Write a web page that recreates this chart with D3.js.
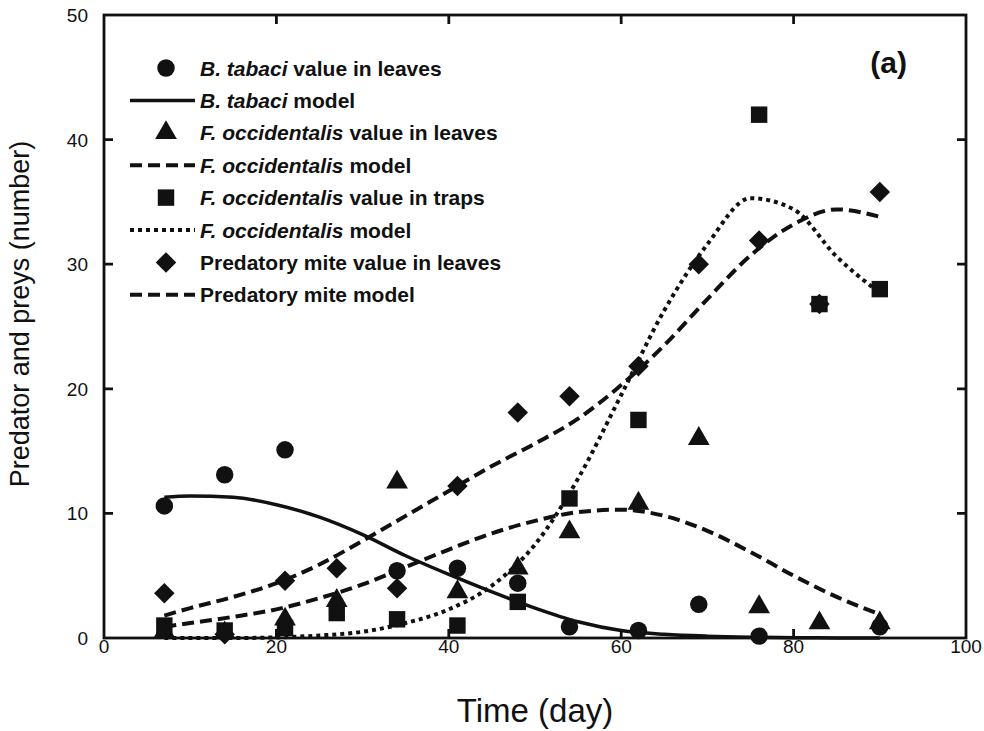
<!DOCTYPE html>
<html>
<head>
<meta charset="utf-8">
<script src="https://cdn.jsdelivr.net/npm/d3@7"></script>
<style>
    body { margin: 0; background: #fff; }
    text { font-family: Arial, "Liberation Sans", sans-serif; fill: #111; }
    .frame { fill: none; stroke: #111; stroke-width: 2.8; }
    .tick-label { font-size: 19px; }
    .legend text { font-size: 21px; font-weight: bold; }
</style>
</head>
<body>
<svg id="chart" width="984" height="731"></svg>
<script>
(function() {
    'use strict';

    /******************************************************************
        data
     ******************************************************************/
    var days = [7, 14, 21, 27, 34, 41, 48, 54, 62, 69, 76, 83, 90];

    var tabaciLeaves   = [10.6, 13.1, 15.1, null, 5.4, 5.6, 4.4, 0.9, 0.6, 2.7, 0.15, null, 0.9];
    var occLeaves      = [0.5, 0.4, 1.5, 3.0, 12.5, 3.7, 5.6, 8.5, 10.8, 16.0, 2.5, 1.2, 1.2];
    var occTraps       = [1.0, 0.6, 0.8, 2.0, 1.5, 1.0, 2.9, 11.2, 17.5, null, 42.0, 26.8, 28.0];
    var mitesLeaves    = [3.6, 0.3, 4.6, 5.6, 4.0, 12.2, 18.1, 19.4, 21.8, 30.0, 31.9, 26.8, 35.8];

    var modelDays      = [7, 10, 15, 20, 25, 30, 35, 40, 45, 50, 55, 60, 65, 70, 75, 80, 85, 90];
    var tabaciModel    = [11.3, 11.4, 11.3, 10.7, 9.7, 8.3, 6.6, 5.1, 3.7, 2.4, 1.3, 0.6, 0.3, 0.15, 0.07, 0.03, 0.01, 0];
    var occLeavesModel = [0.9, 1.2, 1.7, 2.3, 3.2, 4.3, 5.7, 7.1, 8.4, 9.4, 10.1, 10.3, 9.8, 8.6, 6.9, 5.0, 3.3, 1.9];
    var occTrapsModel  = [0, 0, 0, 0.05, 0.2, 0.5, 1.2, 2.3, 4.2, 7.5, 12.8, 19.5, 26.3, 31.6, 35.3, 34.4, 30.6, 27.7];
    var mitesModel     = [1.8, 2.4, 3.3, 4.4, 5.9, 7.8, 9.8, 11.8, 13.8, 15.6, 17.6, 20.3, 23.5, 27.2, 30.7, 33.2, 34.4, 33.8];

    var xTicks = [0, 20, 40, 60, 80, 100];
    var yTicks = [0, 10, 20, 30, 40, 50];

    /******************************************************************
        layout
     ******************************************************************/
    var svg = d3.select('#chart');
    var left = 104, right = 966, top = 15, bottom = 638;

    var x = d3.scaleLinear().domain([0, 100]).range([left, right]);
    var y = d3.scaleLinear().domain([0, 50]).range([bottom, top]);

    var plot = svg.append('g');

    /******************************************************************
        model curves
     ******************************************************************/
    function series(vals, xs) {
        return xs.map(function(d, i) { return [d, vals[i]]; })
            .filter(function(p) { return p[1] !== null; });
    }

    var line = d3.line()
        .x(function(d) { return x(d[0]); })
        .y(function(d) { return y(d[1]); })
        .curve(d3.curveMonotoneX);

    var models = [
        {vals: tabaciModel,    dash: null,    width: 3.5},
        {vals: occLeavesModel, dash: '12,6',  width: 4},
        {vals: occTrapsModel,  dash: '4,4',   width: 4},
        {vals: mitesModel,     dash: '12,6',  width: 4}
    ];

    models.forEach(function(m) {
        plot.append('path')
            .attr('d', line(series(m.vals, modelDays)))
            .attr('fill', 'none')
            .attr('stroke', '#111')
            .attr('stroke-width', m.width)
            .attr('stroke-dasharray', m.dash);
    });

    /******************************************************************
        observed points
     ******************************************************************/
    var sym = {
        circle:   d3.symbol().type(d3.symbolCircle).size(240),
        triangle: d3.symbol().type(d3.symbolTriangle).size(205),
        square:   d3.symbol().type(d3.symbolSquare).size(270),
        diamond:  d3.symbol().type(d3.symbolSquare).size(210)
    };

    var observed = [
        {vals: tabaciLeaves, shape: 'circle'},
        {vals: occLeaves,    shape: 'triangle'},
        {vals: occTraps,     shape: 'square'},
        {vals: mitesLeaves,  shape: 'diamond'}
    ];

    observed.forEach(function(o) {
        plot.selectAll(null)
            .data(series(o.vals, days))
            .enter().append('path')
                .attr('d', sym[o.shape]())
                .attr('fill', '#111')
                .attr('transform', function(d) {
                    return 'translate(' + [x(d[0]), y(d[1])] + ')' +
                        (o.shape === 'diamond' ? ' rotate(45)' : '');
                });
    });

    /******************************************************************
        frame and axes
     ******************************************************************/
    svg.append('rect')
        .attr('class', 'frame')
        .attr('x', left).attr('y', top)
        .attr('width', right - left).attr('height', bottom - top);

    var tickLen = 9;

    svg.append('g').selectAll('path')
        .data(yTicks.slice(1, -1))
        .enter().append('path')
            .attr('class', 'frame')
            .attr('d', function(d) {
                return 'M' + left + ' ' + y(d) + ' h' + tickLen +
                    ' M' + right + ' ' + y(d) + ' h' + (-tickLen);
            });

    svg.append('g').selectAll('path')
        .data(xTicks.slice(1, -1))
        .enter().append('path')
            .attr('class', 'frame')
            .attr('d', function(d) {
                return 'M' + x(d) + ' ' + bottom + ' v' + (-tickLen) +
                    ' M' + x(d) + ' ' + top + ' v' + tickLen;
            });

    svg.append('g').selectAll('text')
        .data(yTicks)
        .enter().append('text')
            .attr('class', 'tick-label')
            .attr('x', 88)
            .attr('y', function(d) { return y(d) + 7; })
            .attr('text-anchor', 'end')
            .text(function(d) { return d; });

    svg.append('g').selectAll('text')
        .data(xTicks)
        .enter().append('text')
            .attr('class', 'tick-label')
            .attr('x', function(d) { return x(d); })
            .attr('y', 653)
            .attr('text-anchor', 'middle')
            .text(function(d) { return d; });

    svg.append('text')
        .attr('x', 535)
        .attr('y', 722)
        .attr('text-anchor', 'middle')
        .style('font-size', '33px')
        .text('Time (day)');

    svg.append('text')
        .attr('transform', 'translate(29,314) rotate(-90)')
        .attr('text-anchor', 'middle')
        .style('font-size', '27px')
        .text('Predator and preys (number)');

    svg.append('text')
        .attr('x', 907)
        .attr('y', 73)
        .attr('text-anchor', 'end')
        .style('font-size', '30px')
        .style('font-weight', 'bold')
        .text('(a)');

    /******************************************************************
        legend
     ******************************************************************/
    var legendItems = [
        {mark: 'circle',   it: 'B. tabaci',        rest: ' value in leaves'},
        {line: models[0],  it: 'B. tabaci',        rest: ' model'},
        {mark: 'triangle', it: 'F. occidentalis',  rest: ' value in leaves'},
        {line: models[1],  it: 'F. occidentalis',  rest: ' model'},
        {mark: 'square',   it: 'F. occidentalis',  rest: ' value in traps'},
        {line: models[2],  it: 'F. occidentalis',  rest: ' model'},
        {mark: 'diamond',  it: '',                 rest: 'Predatory mite value in leaves'},
        {line: models[3],  it: '',                 rest: 'Predatory mite model'}
    ];

    var legend = svg.append('g').attr('class', 'legend');

    legendItems.forEach(function(d, i) {
        var ly = 68 + i * 32.4;
        if (d.mark) {
            legend.append('path')
                .attr('d', sym[d.mark]())
                .attr('fill', '#111')
                .attr('transform', 'translate(' + [166, ly] + ')' +
                    (d.mark === 'diamond' ? ' rotate(45)' : ''));
        } else {
            legend.append('path')
                .attr('d', 'M130 ' + ly + ' H195')
                .attr('stroke', '#111')
                .attr('stroke-width', d.line.width)
                .attr('stroke-dasharray', d.line.dash);
        }
        var t = legend.append('text')
            .attr('x', 200)
            .attr('y', ly + 7.5);
        if (d.it)
            t.append('tspan').style('font-style', 'italic').text(d.it);
        t.append('tspan').text(d.rest);
    });
})();
</script>
</body>
</html>
